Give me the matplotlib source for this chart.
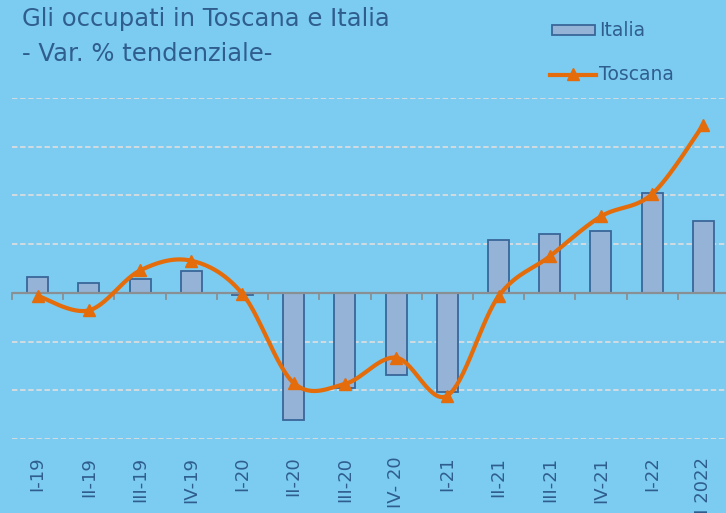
import numpy as np
import matplotlib
matplotlib.use('Agg')
import matplotlib.pyplot as plt
from matplotlib.transforms import blended_transform_factory

# data
periods = ['I-19', 'II-19', 'III-19', 'IV-19', 'I-20', 'II-20', 'III-20',
           'IV- 20', 'I-21', 'II-21', 'III-21', 'IV-21', 'I-22', 'II 2022']
italia = [0.33, 0.21, 0.29, 0.45, -0.05, -2.62, -1.95, -1.68, -2.03,
          1.09, 1.21, 1.26, 2.06, 1.48]
toscana = [-0.06, -0.36, 0.46, 0.66, -0.02, -1.85, -1.87, -1.33, -2.11,
           -0.07, 0.75, 1.57, 2.03, 3.45]

bg = '#7ccbf0'
txt = '#2f5e8e'
orange = '#e46c0a'
font = 'DejaVu Sans'


def smooth(x, y, n=30):
    # Excel-like smoothed line: Catmull-Rom as cubic Bezier segments
    p = np.column_stack([x, y]).astype(float)
    p = np.vstack([p[0], p, p[-1]])
    out = []
    t = np.linspace(0, 1, n)[:, None]
    for i in range(1, len(p) - 2):
        b0 = p[i]
        b1 = p[i] + (p[i + 1] - p[i - 1]) / 6
        b2 = p[i + 1] - (p[i + 2] - p[i]) / 6
        b3 = p[i + 1]
        seg = ((1 - t) ** 3) * b0 + 3 * ((1 - t) ** 2) * t * b1 \
            + 3 * (1 - t) * t ** 2 * b2 + t ** 3 * b3
        out.append(seg if i == 1 else seg[1:])
    out = np.vstack(out)
    return out[:, 0], out[:, 1]


fig = plt.figure(figsize=(7.26, 5.13), dpi=100)
fig.patch.set_facecolor(bg)

ax = fig.add_axes([12 / 726, 74 / 513, 717 / 726, 341 / 513])
ax.set_facecolor(bg)

x = np.arange(len(periods))
ax.set_xlim(-0.5, len(periods) - 0.5)
ax.set_ylim(-3, 4)

for yv in range(-3, 5):
    if yv == 0:
        continue
    ax.axhline(yv, color='#d8dde0', lw=1.3, ls=(0, (3, 1.5)), zorder=1)

ax.bar(x, italia, width=0.41, color='#95b3d7', edgecolor='#3a6699',
       linewidth=1.3, zorder=2, label='Italia')

# zero axis with tick marks between categories
ax.axhline(0, color='#8a8f94', lw=1.6, zorder=3)
for b in np.arange(-0.5, len(periods), 1.0):
    ax.plot([b, b], [0, -0.12], color='#8a8f94', lw=1.3, zorder=3,
            clip_on=False)

sx, sy = smooth(x, toscana)
ax.plot(sx, sy, color=orange, lw=3, zorder=4, solid_capstyle='round')
ax.plot(x, toscana, ls='none', marker='^', ms=9, color=orange, zorder=5)

for s in ax.spines.values():
    s.set_visible(False)
ax.set_xticks([])
ax.set_yticks([])

tr = blended_transform_factory(ax.transData, ax.transAxes)
for xi, lab in zip(x, periods):
    ax.text(xi, -0.052, lab, transform=tr, rotation=90, ha='center',
            va='top', fontsize=13, color=txt, family=font)

fig.text(22 / 726, 1 - 26 / 513, 'Gli occupati in Toscana e Italia',
         fontsize=17.5, color=txt, va='baseline', family=font)
fig.text(22 / 726, 1 - 61 / 513, '- Var. % tendenziale-',
         fontsize=17.5, color=txt, va='baseline', family=font)

# legend drawn by hand
fig.patches.append(plt.Rectangle((552 / 726, 1 - 35 / 513), 43 / 726,
                                 10 / 513, transform=fig.transFigure,
                                 facecolor='#95b3d7', edgecolor='#3a6699',
                                 linewidth=1.3))
fig.text(599 / 726, 1 - 30 / 513, 'Italia', fontsize=13.5, color=txt,
         va='center', family=font)
fig.lines.append(plt.Line2D([550 / 726, 596 / 726], [1 - 75 / 513] * 2,
                            transform=fig.transFigure, color=orange, lw=3))
fig.lines.append(plt.Line2D([573 / 726], [1 - 74 / 513], marker='^', ms=9,
                            transform=fig.transFigure, color=orange))
fig.text(599 / 726, 1 - 75 / 513, 'Toscana', fontsize=13.5, color=txt,
         va='center', family=font)

fig.savefig('out.png', dpi=100, facecolor=bg)
